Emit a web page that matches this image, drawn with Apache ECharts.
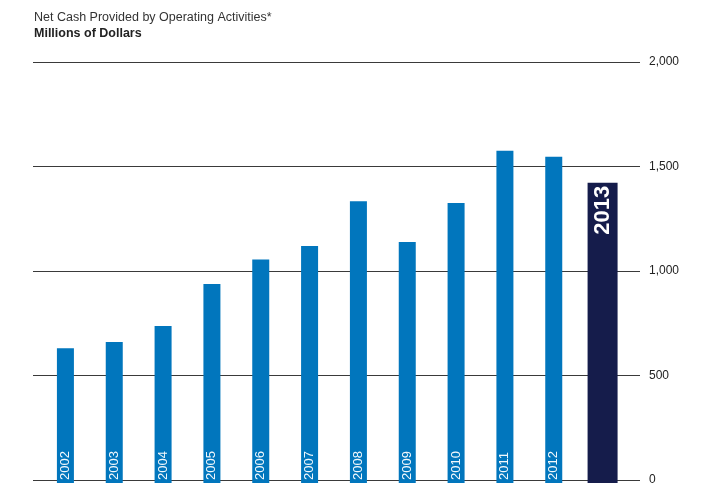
<!DOCTYPE html>
<html>
<head>
<meta charset="utf-8">
<script src="https://cdn.jsdelivr.net/npm/echarts@6/dist/echarts.min.js"></script>
<style>
  html, body { margin: 0; padding: 0; background: #fff; }
  #main { width: 713px; height: 486px; }
</style>
</head>
<body>
<div id="main"></div>
<script>
    // data
    var years = ['2002', '2003', '2004', '2005', '2006', '2007', '2008', '2009', '2010', '2011', '2012', '2013'];
    var cash = [640, 670, 746, 945, 1062, 1126, 1339, 1145, 1330, 1578, 1550, 1426];
    var yTicks = [0, 500, 1000, 1500, 2000];

    var myChart = echarts.init(document.getElementById('main'));

    var lastIdx = years.length - 1;

    // earlier years in one series, 2013 in its own (wider, dark) series on a twin axis
    var pastData = years.map(function (y, i) {
        return i === lastIdx ? '-' : cash[i];
    });
    var lastData = years.map(function (y, i) {
        return i === lastIdx ? cash[i] : '-';
    });

    var option = {
        animation: false,
        title: [{
            text: 'Net Cash Provided by Operating Activities*',
            left: 34, top: 11, padding: 0,
            textStyle: { fontFamily: 'Liberation Sans', fontSize: 12.5, fontWeight: 'normal', color: '#333' }
        }, {
            text: 'Millions of Dollars',
            left: 34, top: 27, padding: 0,
            textStyle: { fontFamily: 'Liberation Sans', fontSize: 12.5, fontWeight: 'bold', color: '#222' }
        }],
        grid: [
            // grid for the long horizontal rules + right labels
            { left: 33, right: 73, top: 62, bottom: 3 },
            // grid holding the bars
            { left: 41, right: 86, top: 62, bottom: 3 }
        ],
        xAxis: [
            { type: 'category', gridIndex: 0, data: years, show: false },
            { type: 'category', gridIndex: 1, data: years, show: false },
            { type: 'category', gridIndex: 1, data: years, show: false }
        ],
        yAxis: [{
            type: 'value',
            gridIndex: 0,
            position: 'right',
            min: 0,
            max: 2000,
            interval: 500,
            axisLine: { show: false },
            axisTick: { show: false },
            axisLabel: {
                margin: 9,
                fontFamily: 'Liberation Sans',
                fontSize: 12,
                color: '#222',
                formatter: function (v) {
                    return yTicks.indexOf(v) >= 0 ? v.toLocaleString('en-US') : '';
                }
            },
            splitLine: { lineStyle: { color: '#3a3a3a', width: 1.2 } }
        }, {
            type: 'value',
            gridIndex: 1,
            min: 0,
            max: 2000,
            show: false
        }],
        series: [{
            type: 'bar',
            xAxisIndex: 1,
            yAxisIndex: 1,
            data: pastData,
            barWidth: 17,
            z: 3,
            itemStyle: { color: '#0176bd' },
            label: {
                show: true,
                position: 'insideBottom',
                rotate: 90,
                align: 'left',
                verticalAlign: 'middle',
                distance: 3,
                fontFamily: 'Liberation Sans',
                fontSize: 13,
                color: '#f2f8fc',
                formatter: function (p) { return p.name; }
            }
        }, {
            type: 'bar',
            xAxisIndex: 2,
            yAxisIndex: 1,
            data: lastData,
            barWidth: 30,
            z: 3,
            itemStyle: { color: '#151c4b' },
            label: {
                show: true,
                position: 'insideTop',
                rotate: 90,
                align: 'right',
                verticalAlign: 'middle',
                distance: 3,
                fontFamily: 'Liberation Sans',
                fontSize: 22,
                fontWeight: 'bold',
                color: '#fff',
                formatter: function (p) { return p.name; }
            }
        }]
    };
    myChart.setOption(option);
</script>
</body>
</html>
